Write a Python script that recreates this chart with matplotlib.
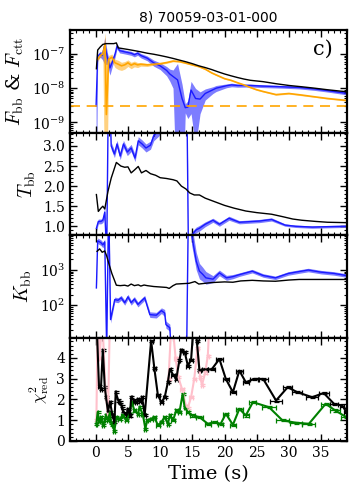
import numpy as np
import matplotlib
matplotlib.use("Agg")
import matplotlib.pyplot as plt
from matplotlib.ticker import MultipleLocator, LogLocator, NullFormatter

plt.rcParams['font.family'] = ['DejaVu Serif']
plt.rcParams['mathtext.fontset'] = 'dejavuserif'

title = "8) 70059-03-01-000"
xticks = [0, 5, 10, 15, 20, 25, 30, 35]

# ---- Panel 1: fluxes ----
t_tot = [0.1, 0.3, 0.7, 1.1, 1.6, 2.2, 2.8, 3.2, 3.5, 4.0, 5.0, 6.0, 7.0, 8.0, 9.0, 10.0, 11.0, 12.0, 13.0, 14.0,
         15.0, 16.0, 17.0, 18.0, 19.0, 20.0, 21.0, 22.0, 23.0, 24.0, 26.0, 28.0, 30.0, 32.0, 34.0, 36.0, 38.0, 39.0]
f_tot = [3.7e-8, 1.3e-7, 1.6e-7, 1.9e-7, 2.0e-7, 2.0e-7, 2.0e-7, 2.1e-7, 1.5e-7, 1.45e-7, 1.35e-7, 1.25e-7, 1.15e-7,
         1.05e-7, 9.8e-8, 9.0e-8, 8.2e-8, 7.4e-8, 6.6e-8, 5.9e-8, 5.2e-8, 4.5e-8, 4.0e-8, 3.5e-8, 3.0e-8, 2.6e-8,
         2.3e-8, 2.05e-8, 1.85e-8, 1.7e-8, 1.55e-8, 1.35e-8, 1.2e-8, 1.1e-8, 1.0e-8, 9.0e-9, 8.2e-9, 7.9e-9]

t_fbb = [0.05, 0.3, 0.7, 1.0, 1.4, 1.8, 2.2, 2.6, 3.0, 3.3, 3.7, 4.5, 5.5, 6.0, 6.5, 7.0, 8.0, 9.0, 10.0, 11.0,
         11.5, 12.0, 12.7, 13.4, 13.9, 14.3, 14.8, 15.5, 16.2, 17.0, 18.2, 18.7, 20.3, 21.1, 22.0, 24.0, 26.0, 29.0,
         31.6, 34.0, 36.0, 38.9]
f_bb = [3e-9, 8.5e-8, 1.0e-7, 9e-8, 1.8e-7, 8e-8, 3.9e-8, 6e-8, 1.0e-7, 1.7e-7, 1.25e-7, 1.15e-7, 1.05e-7, 9.5e-8,
        1.05e-7, 9e-8, 7.5e-8, 5.5e-8, 4.5e-8, 3.3e-8, 2.6e-8, 2.2e-8, 1.75e-8, 5e-9, 2.7e-9, 2.8e-9, 8.8e-9, 5e-9,
        4.8e-9, 7e-9, 9e-9, 1e-8, 1.18e-8, 1.25e-8, 1.2e-8, 1.2e-8, 1.15e-8, 1.1e-8, 1.05e-8, 9.5e-9, 8.5e-9, 7.1e-9]
fbb_err = [5e-9, 1.5e-8, 2e-8, 2e-8, 1.3e-7, 3e-8, 1.5e-8, 1.5e-8, 2e-8, 3e-8, 1.8e-8, 1.5e-8, 1.4e-8, 1.3e-8,
           1.4e-8, 1.3e-8, 1.2e-8, 1.1e-8, 1.0e-8, 1.0e-8, 1.0e-8, 1.2e-8, 3.5e-8, 8e-9, 0.8e-9, 1.5e-9, 7e-9,
           4.8e-9, 3e-9, 2.5e-9, 2e-9, 2e-9, 1.5e-9, 1.5e-9, 1.3e-9, 1.2e-9, 1.1e-9, 1.0e-9, 1.0e-9, 9e-10,
           8e-10, 7e-10]

t_ctt = [0.3, 0.7, 1.1, 1.45, 1.65, 2.0, 2.5, 3.0, 3.5, 4.0, 4.5, 5.0, 5.5, 6.0, 6.5, 7.0, 8.0, 9.0, 10.0, 11.0,
         12.0, 13.0, 14.0, 15.0, 16.0, 17.0, 18.0, 19.0, 20.0, 21.0, 22.0, 23.0, 24.0, 25.0, 26.0, 28.0, 30.0,
         32.0, 34.0, 36.0, 38.9]
f_ctt = [7e-8, 9e-8, 1.0e-7, 2.0e-7, 1.7e-9, 7e-8, 8e-8, 5.5e-8, 5e-8, 4.5e-8, 4.8e-8, 5.5e-8, 4.7e-8, 5.2e-8,
         4.8e-8, 5e-8, 4.8e-8, 5e-8, 5.2e-8, 5.6e-8, 6.2e-8, 6.0e-8, 5.4e-8, 4.8e-8, 4.3e-8, 3.6e-8, 2.8e-8,
         2.3e-8, 1.9e-8, 1.7e-8, 1.45e-8, 1.25e-8, 1.05e-8, 9e-9, 8e-9, 6.5e-9, 7e-9, 6.3e-9, 5.6e-9, 5e-9, 4.4e-9]
fctt_err = [1e-8, 1e-8, 1e-8, 2.1e-7, 5e-8, 2e-8, 2e-8, 1.5e-8, 1.5e-8, 1.2e-8, 1.2e-8, 1.2e-8, 1e-8, 1e-8,
            8e-9, 6e-9, 5e-9, 3e-9, 3e-9, 3e-9, 3e-9, 3e-9, 2.5e-9, 2e-9, 2e-9, 1.5e-9, 1.2e-9, 1e-9, 8e-10,
            7e-10, 6e-10, 5e-10, 4e-10, 4e-10, 3e-10, 3e-10, 3e-10, 3e-10, 2e-10, 2e-10, 2e-10]
f_limit = 3e-9

# ---- Panel 2: Tbb ----
t_T_tot = [0.1, 0.4, 0.8, 1.1, 1.4, 1.9, 2.4, 3.2, 3.9, 4.5, 5.0, 5.5, 6.0, 6.6, 7.1, 7.8, 8.5, 9.3, 10.0, 11.0,
           12.0, 12.6, 13.3, 14.0, 14.6, 15.3, 16.1, 17.0, 18.5, 20.0, 21.5, 23.3, 25.0, 27.3, 29.0, 30.6, 32.0,
           34.2, 36.0, 38.9]
T_tot = [1.79, 1.37, 1.45, 1.50, 1.43, 1.87, 2.2, 2.59, 2.50, 2.47, 2.48, 2.33, 2.40, 2.49, 2.33, 2.39, 2.31, 2.27,
         2.21, 2.19, 2.16, 2.13, 2.0, 1.93, 1.83, 1.78, 1.78, 1.70, 1.61, 1.52, 1.45, 1.38, 1.34, 1.30, 1.24, 1.18,
         1.15, 1.12, 1.10, 1.09]

t_T_bb = [0.1, 0.4, 0.8, 1.1, 1.4, 1.7, 2.0, 2.4, 2.9, 3.3, 3.8, 4.3, 4.9, 5.5, 6.1, 6.6, 7.2, 7.8, 8.5, 9.0,
          9.8, 10.5, 11.5, 12.5, 13.5, 14.1, 14.4, 15.0, 15.6, 16.1, 17.0, 18.2, 19.2, 20.7, 22.3, 25.4, 27.3,
          29.4, 31.0, 33.6, 36.0, 38.9]
T_bb = [0.95, 1.12, 1.12, 1.15, 1.35, 0.3, 5.0, 3.0, 2.8, 3.05, 2.75, 3.05, 2.85, 2.95, 2.7, 3.13, 3.05, 2.95,
        3.02, 3.25, 3.4, 3.6, 3.8, 4.0, 4.5, 5.0, 0.2, 0.8, 0.91, 0.95, 1.05, 1.15, 1.05, 1.2, 1.1, 1.13, 1.17,
        1.03, 1.0, 0.98, 0.99, 1.0]
Tbb_err = [0.08, 0.06, 0.06, 0.06, 0.15, 0.1, 0.1, 0.09, 0.09, 0.09, 0.09, 0.09, 0.09, 0.09, 0.09, 0.1, 0.1, 0.1,
           0.1, 0.12, 0.15, 0.15, 0.2, 0.2, 0.2, 0.2, 0.1, 0.08, 0.07, 0.07, 0.06, 0.05, 0.05, 0.05, 0.04, 0.04,
           0.04, 0.03, 0.03, 0.03, 0.03, 0.03]

# ---- Panel 3: Kbb ----
t_K_tot = [0.2, 0.6, 1.0, 1.4, 1.7, 2.0, 2.5, 3.2, 3.8, 4.5, 5.0, 5.5, 6.0, 6.6, 7.0, 7.5, 8.0, 9.0, 10.0, 11.0,
           11.4, 12.0, 12.5, 13.5, 14.5, 15.4, 16.0, 17.0, 18.0, 19.0, 20.0, 21.3, 22.5, 24.3, 26.0, 27.9, 30.0,
           31.6, 34.0, 36.0, 38.9]
K_tot = [3400, 4000, 3200, 3500, 2500, 1600, 800, 370, 360, 370, 350, 400, 360, 380, 350, 375, 360, 340, 330, 320,
         300, 360, 400, 410, 420, 470, 400, 420, 440, 450, 460, 450, 490, 510, 490, 480, 520, 540, 540, 540, 540]

t_K_bb = [0.1, 0.3, 0.8, 1.1, 1.4, 1.7, 2.0, 2.3, 2.95, 3.45, 3.95, 4.5, 5.0, 5.5, 6.0, 6.55, 7.05, 7.6, 8.4,
          9.4, 10.2, 10.7, 10.9, 11.5, 11.8, 14.1, 14.4, 14.9, 15.6, 16.1, 16.6, 17.1, 18.2, 19.2, 20.3, 21.3,
          22.3, 24.3, 26.0, 27.9, 29.9, 31.5, 33.0, 35.0, 37.0, 38.9]
K_bb = [310, 6800, 6000, 5200, 6300, 5, 1e5, 39, 145, 138, 162, 118, 173, 118, 150, 105, 130, 162, 54, 52, 70, 60,
        28, 23, 3, 3, 1e5, 1e4, 1800, 930, 760, 600, 550, 830, 600, 650, 740, 930, 700, 600, 800, 900, 1000, 870,
        800, 700]
Kbb_err = [0.05, 0.08, 0.08, 0.08, 0.08, 0.1, 0.1, 0.1, 0.07, 0.07, 0.07, 0.07, 0.07, 0.07, 0.07, 0.07, 0.07,
           0.07, 0.08, 0.08, 0.08, 0.1, 0.1, 0.1, 0.1, 0.1, 0.1, 0.3, 0.25, 0.22, 0.2, 0.18, 0.1, 0.08, 0.07,
           0.06, 0.05, 0.05, 0.05, 0.05, 0.05, 0.05, 0.05, 0.05, 0.05, 0.05]  # dex

# ---- Panel 4: reduced chi^2 ----
t_chi_tot = [0.1, 0.5, 0.8, 1.1, 1.4, 1.6, 1.9, 2.2, 2.6, 2.9, 3.1, 3.5, 3.7, 4.0, 4.2, 4.75, 5.0, 5.3, 5.5, 6.0,
             6.3, 6.6, 6.9, 7.2, 7.6, 8.6, 9.1, 9.65, 10.2, 10.7, 11.2, 11.5, 12.0, 12.5, 13.0, 13.3, 13.8, 14.3,
             14.8, 15.3, 15.7, 16.1, 17.0, 18.0, 19.2, 20.2, 21.3, 22.3, 23.3, 24.6, 26.0, 28.0, 29.8, 31.3,
             33.6, 35.4, 37.0, 38.3, 38.9]
chi_tot = [6.0, 2.67, 2.5, 4.4, 2.6, 2.1, 1.4, 1.9, 1.23, 0.9, 2.35, 1.95, 1.87, 1.7, 1.47, 1.23, 1.55, 1.23, 2.1,
           1.95, 1.87, 2.0, 1.95, 2.1, 1.25, 4.83, 3.5, 2.2, 1.87, 2.1, 2.83, 3.47, 3.2, 2.99, 3.9, 4.4, 4.3,
           3.63, 3.9, 6.0, 4.8, 3.4, 3.45, 3.45, 3.95, 2.99, 2.35, 3.39, 2.83, 2.99, 2.99, 1.95, 2.59, 2.35, 2.11,
           2.31, 1.79, 1.71, 1.39]

t_chi_bb = [0.1, 0.3, 0.5, 0.8, 1.1, 1.4, 1.6, 1.9, 2.2, 2.4, 2.6, 2.9, 3.2, 3.7, 4.2, 4.75, 5.2, 5.6, 6.0, 6.55,
            6.8, 7.3, 7.7, 8.0, 8.6, 9.1, 9.65, 10.2, 10.7, 11.2, 11.5, 12.0, 12.5, 13.0, 13.5, 13.8, 14.3, 15.0,
            16.1, 17.4, 18.4, 19.4, 20.2, 21.3, 22.3, 23.3, 24.4, 26.9, 29.0, 31.1, 33.1, 35.7, 37.2, 38.9]
chi_bb = [0.83, 1.4, 0.95, 1.15, 0.76, 1.0, 1.23, 1.0, 1.39, 0.85, 0.76, 0.5, 1.15, 1.07, 1.23, 1.0, 1.3, 1.87,
          1.47, 1.3, 1.63, 1.3, 0.6, 0.99, 1.07, 1.15, 0.76, 0.92, 1.15, 0.83, 1.23, 0.99, 1.47, 1.39, 2.27,
          1.63, 1.39, 1.23, 1.15, 0.83, 0.9, 0.83, 1.31, 0.78, 1.55, 1.23, 1.87, 1.63, 0.99, 0.88, 0.83, 1.79,
          1.47, 1.15]

t_chi_alt = [0.1, 0.3, 0.6, 1.0, 1.5, 1.9, 2.2, np.nan, 11.3, 11.8, 12.4, 12.8, 13.4, 14.0, 14.3, 14.8, 15.3,
             15.8, 16.2, 16.5, 17.0, 17.4, 17.7]
chi_alt = [1.0, 6.0, 4.0, 6.0, 2.5, 1.2, 6.0, np.nan, 3.0, 6.0, 4.0, 3.1, 2.5, 1.7, 1.6, 2.1, 3.0, 4.5, 3.1,
           2.7, 3.3, 4.1, 6.0]


def half_widths(t):
    t = np.asarray(t, float)
    d = np.diff(t)
    left = np.concatenate([[d[0]], d]) / 2
    right = np.concatenate([d, [d[-1]]]) / 2
    return np.minimum(left, right)


fig, axes = plt.subplots(4, 1, figsize=(3.58, 4.95), dpi=100, sharex=True)
fig.subplots_adjust(left=0.1955, right=0.969, top=0.9394, bottom=0.1091, hspace=0)

blue = '#1a1aff'
band_blue = '#6666ff'
orange = '#ffa500'

# Panel 1
ax = axes[0]
ax.set_yscale('log')
tb = np.array(t_fbb); fb = np.array(f_bb); eb = np.array(fbb_err)
ax.fill_between(tb, np.clip(fb - eb, 1e-12, None), fb + eb, color=band_blue, alpha=0.85, lw=0)
ax.plot(tb, fb, color=blue, lw=1.0)
tc = np.array(t_ctt); fc = np.array(f_ctt); ec = np.array(fctt_err)
ax.fill_between(tc, np.clip(fc - ec, 1e-12, None), fc + ec, color=orange, alpha=0.5, lw=0)
ax.plot(tc, fc, color=orange, lw=1.2)
ax.plot(t_tot, f_tot, color='black', lw=1.0)
ax.axhline(f_limit, color=orange, ls='--', lw=1.2, dashes=(6, 4))
ax.set_ylim(5e-10, 5e-7)
ax.set_ylabel(r'$F_{\rm bb}$ & $F_{\rm ctt}$', fontsize=14, math_fontfamily='cm')
ax.text(0.913, 0.81, 'c)', transform=ax.transAxes, fontsize=15, ha='center', va='center')
ax.set_title(title, fontsize=10, family='DejaVu Sans', pad=6)

# Panel 2
ax = axes[1]
tT = np.array(t_T_bb); T = np.array(T_bb); eT = np.array(Tbb_err)
ax.fill_between(tT, T - eT, T + eT, color=band_blue, alpha=0.85, lw=0)
ax.plot(tT, T, color=blue, lw=1.0)
ax.plot(t_T_tot, T_tot, color='black', lw=1.0)
ax.set_ylim(0.77, 3.33)
ax.set_yticks([1.0, 1.5, 2.0, 2.5, 3.0])
ax.yaxis.set_minor_locator(MultipleLocator(0.1))
ax.set_ylabel(r'$T_{\rm bb}$', fontsize=14, math_fontfamily='cm')

# Panel 3
ax = axes[2]
ax.set_yscale('log')
tK = np.array(t_K_bb); K = np.array(K_bb, float); eK = np.array(Kbb_err)
ax.fill_between(tK, K / 10**eK, K * 10**eK, color=band_blue, alpha=0.85, lw=0)
ax.plot(tK, K, color=blue, lw=1.0)
ax.plot(t_K_tot, K_tot, color='black', lw=1.0)
ax.set_ylim(11.5, 9.6e3)
ax.set_ylabel(r'$K_{\rm bb}$', fontsize=14, math_fontfamily='cm')

# Panel 4
ax = axes[3]
for tt, cc, col, lw in [(t_chi_alt, chi_alt, 'pink', 1.5), (t_chi_bb, chi_bb, 'green', 1.5),
                        (t_chi_tot, chi_tot, 'black', 1.5)]:
    tt = np.array(tt, float); cc = np.array(cc, float)
    ok = ~np.isnan(tt)
    xe = np.full_like(tt, np.nan)
    xe[ok] = np.concatenate([half_widths(seg) for seg in np.split(tt[ok], np.where(np.diff(np.where(ok)[0]) > 1)[0] + 1)])
    ax.errorbar(tt, cc, xerr=xe, yerr=0.05, color=col, lw=lw, elinewidth=0.9, capsize=1.8, capthick=0.9)
ax.set_ylim(0, 4.95)
ax.set_yticks([0, 1, 2, 3, 4])
ax.yaxis.set_minor_locator(MultipleLocator(0.2))
ax.set_ylabel(r'$\chi^2_{\rm red}$', fontsize=12, math_fontfamily='cm')
ax.set_xlabel('Time (s)', fontsize=14)

for a in axes:
    a.set_xlim(-4, 39)
    a.xaxis.set_major_locator(MultipleLocator(5))
    a.xaxis.set_minor_locator(MultipleLocator(1))
    a.tick_params(which='both', direction='in', top=True, right=True, labelsize=10)
    a.tick_params(which='major', length=5, width=1)
    a.tick_params(which='minor', length=2.5, width=0.8)
    for s in a.spines.values():
        s.set_linewidth(1.6)
axes[3].set_xticks(xticks)
for a in (axes[0], axes[2]):
    a.yaxis.set_minor_locator(LogLocator(base=10, subs=np.arange(2, 10)))
    a.yaxis.set_minor_formatter(NullFormatter())

fig.savefig('out.png', dpi=100)
